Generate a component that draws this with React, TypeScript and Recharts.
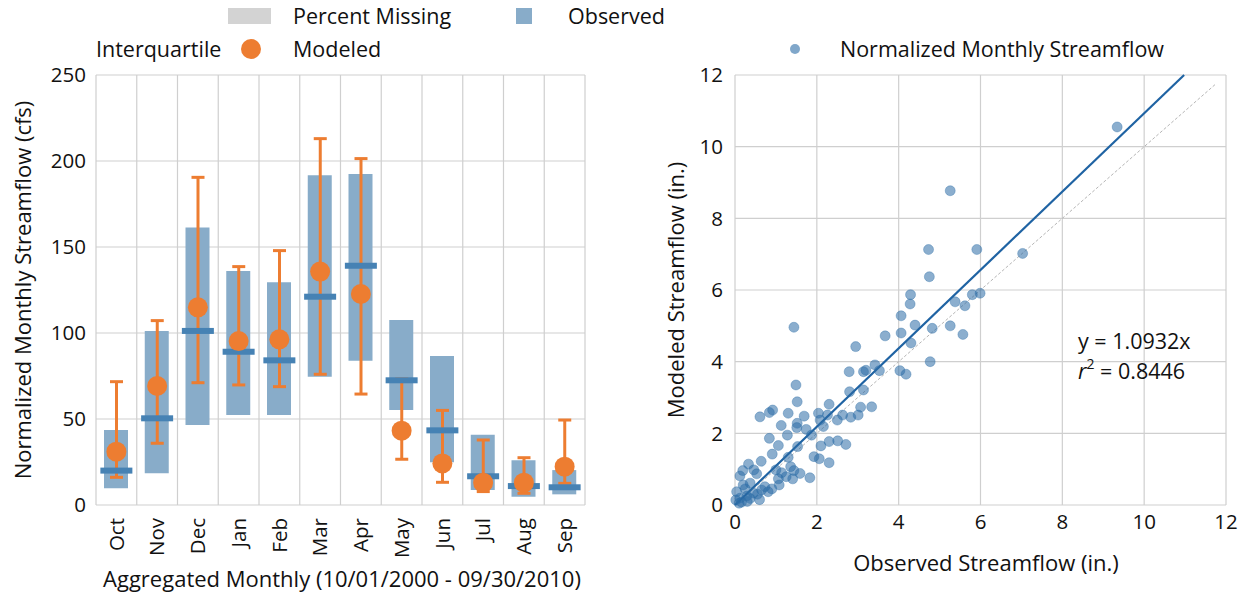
import React from 'react'
import {
  ComposedChart, ScatterChart, Bar, Scatter, XAxis, YAxis, CartesianGrid, ReferenceLine,
} from 'recharts'

const months = ['Oct', 'Nov', 'Dec', 'Jan', 'Feb', 'Mar', 'Apr', 'May', 'Jun', 'Jul', 'Aug', 'Sep']
const boxLow = [9.7, 18.4, 46.5, 52.3, 52.3, 74.6, 83.9, 55.2, 24.8, 8.7, 4.8, 6.2]
const boxHigh = [43.6, 101.2, 161.4, 136, 129.5, 191.7, 192.4, 107.6, 86.6, 40.9, 26, 20.3]
const observedMedian = [20, 50.4, 101.2, 89.1, 84.1, 121.1, 139.1, 72.5, 43.4, 16.7, 11, 10.3]
const modeledMedian = [31, 69.2, 114.9, 95.3, 96.3, 135.7, 122.7, 43.2, 24.2, 13, 13, 22.3]
const modeledLow = [16.1, 35.9, 71.1, 69.8, 68.8, 76, 64.5, 26.6, 13.2, 7.8, 6.8, 12.6]
const modeledHigh = [71.7, 107.2, 190.5, 138.6, 147.9, 213, 201.4, 73.3, 55, 37.8, 27.5, 49.4]
const leftTicks = [0, 50, 100, 150, 200, 250]

// normalized monthly streamflow, inches
const observedIn = [
  9.34, 5.26, 4.73, 5.91, 7.03, 4.75, 4.29, 4.28, 5.8, 5.99, 5.38, 5.62, 4.06, 4.4, 4.82, 5.26, 5.57, 3.67, 4.06, 2.95, 1.44, 4.3, 4.77,
  2.79, 3.14, 3.2, 3.42, 3.53, 4.03, 4.18, 1.49, 2.8, 3.14, 1.52, 2.3, 3.07, 3.34,
  0.61, 0.84, 0.92, 1.3, 1.69, 2.04, 2.26, 2.63, 2.83, 3.01, 2.5, 2.08, 1.52,
  1.13, 1.51, 1.74, 2.16, 1.28, 1.87, 0.84, 1.06, 1.53, 0.91, 2.1, 2.3, 2.51, 2.71, 1.93, 2.06, 2.3, 1.3,
  0.33, 0.64, 0.19, 0.12, 0.46, 0.53, 1.0, 1.14, 1.36, 1.44, 1.59, 1.83, 1.41, 1.25, 1.06, 1.08, 0.37, 0.2,
  0.73, 0.81, 0.65, 0.45, 0.29, 0.12, 0.04, 0.02, 0.37, 0.16, 0.55, 0.25, 0.9, 0.1, 0.6, 0.3,
]
const modeledIn = [
  10.55, 8.77, 7.13, 7.13, 7.02, 6.37, 5.87, 5.61, 5.87, 5.91, 5.67, 5.56, 5.28, 5.02, 4.93, 5.0, 4.76, 4.72, 4.8, 4.42, 4.96, 4.52, 4.0,
  3.72, 3.72, 3.76, 3.91, 3.75, 3.75, 3.65, 3.35, 3.16, 3.21, 2.88, 2.81, 2.73, 2.74,
  2.46, 2.58, 2.65, 2.56, 2.48, 2.56, 2.51, 2.51, 2.45, 2.51, 2.37, 2.37, 2.28,
  2.22, 2.16, 2.11, 2.19, 1.95, 1.95, 1.86, 1.66, 1.63, 1.42, 1.65, 1.77, 1.79, 1.69, 1.35, 1.29, 1.18, 1.33,
  1.14, 1.22, 0.96, 0.81, 0.98, 0.87, 0.98, 0.9, 1.07, 0.96, 0.88, 0.76, 0.73, 0.79, 0.73, 0.56, 0.61, 0.56,
  0.51, 0.37, 0.42, 0.33, 0.25, 0.19, 0.37, 0.14, 0.18, 0.08, 0.3, 0.45, 0.45, 0.05, 0.15, 0.1,
]
const rightTicks = [0, 2, 4, 6, 8, 10, 12]
const SLOPE = 1.0932
const R2 = 0.8446

const ORANGE = '#ed7d31'
const BOX = '#88acc9'
const MEDIAN = '#4682b4'
const DOT = '#2b6ca6'
const FONT = '"Open Sans", sans-serif'

const monthly = months.map((m, i) => ({
  month: m,
  box: [boxLow[i], boxHigh[i]],
  err: [modeledLow[i], modeledHigh[i]],
  median: observedMedian[i],
  modeled: modeledMedian[i],
}))

const points = observedIn.map((o, i) => ({ obs: o, mod: modeledIn[i] }))

const tickStyle = { fontSize: 20.5, fill: '#111', fontFamily: FONT }

function MonthTick(props: any) {
  const { x, y, payload } = props
  return (
    <text x={x} y={y + 5} transform={`rotate(-90 ${x} ${y + 5})`} textAnchor="end" dy="0.35em"
      fontSize={20.5} fill="#111" fontFamily={FONT}>
      {payload.value}
    </text>
  )
}

function ErrShape(props: any) {
  const { x, y, width, height } = props
  const cx = x + width / 2
  return (
    <g stroke={ORANGE} strokeWidth={3}>
      <line x1={cx} y1={y} x2={cx} y2={y + height} />
      <line x1={cx - 6.5} y1={y} x2={cx + 6.5} y2={y} />
      <line x1={cx - 6.5} y1={y + height} x2={cx + 6.5} y2={y + height} />
    </g>
  )
}

function MedianShape(props: any) {
  const { cx, cy } = props
  return <rect x={cx - 16} y={cy - 3} width={32} height={6} fill={MEDIAN} />
}

function ModeledShape(props: any) {
  const { cx, cy } = props
  return <circle cx={cx} cy={cy} r={10} fill={ORANGE} />
}

function PointShape(props: any) {
  const { cx, cy } = props
  return <circle cx={cx} cy={cy} r={5} fill={DOT} fillOpacity={0.55} stroke={DOT} strokeOpacity={0.35} strokeWidth={1} />
}

function Txt({ x, y, children, rotate, anchor = 'left', size = 21.5 }: any) {
  const tx = anchor === 'center' ? '-50%' : '0'
  return (
    <div style={{
      position: 'absolute', left: x, top: y, fontFamily: FONT, fontSize: size, color: '#111',
      whiteSpace: 'nowrap', lineHeight: 1,
      transform: `translate(${tx}, -50%)${rotate ? ` rotate(${rotate}deg)` : ''}`,
      transformOrigin: anchor === 'center' ? 'center' : 'left center',
    }}>
      {children}
    </div>
  )
}

export default function App() {
  const bandLines = ({ offset }: any) =>
    months.concat(['']).map((_, i) => offset.left + (i * offset.width) / months.length)

  return (
    <div style={{ position: 'absolute', left: 0, top: 0, width: 1247, height: 598, background: '#fff' }}>
      <div style={{ position: 'absolute', left: 0, top: 0 }}>
        <ComposedChart width={600} height={598} data={monthly} margin={{ top: 75, right: 15, bottom: 33, left: 0 }}>
          <CartesianGrid stroke="#cfcfcf" strokeWidth={1.2} verticalCoordinatesGenerator={bandLines} />
          <XAxis dataKey="month" axisLine={false} tickLine={false} height={60} tick={<MonthTick />} interval={0} />
          <XAxis dataKey="month" xAxisId="err" hide />
          <YAxis domain={[0, 250]} ticks={leftTicks} axisLine={false} tickLine={false} width={96}
            tick={tickStyle} tickMargin={4} />
          <Bar dataKey="box" fill={BOX} barSize={24} isAnimationActive={false} />
          <Scatter dataKey="median" shape={<MedianShape />} isAnimationActive={false} />
          <Bar dataKey="err" xAxisId="err" barSize={13} shape={<ErrShape />} isAnimationActive={false} />
          <Scatter dataKey="modeled" shape={<ModeledShape />} isAnimationActive={false} />
        </ComposedChart>
      </div>

      <div style={{ position: 'absolute', left: 640, top: 0 }}>
        <ScatterChart width={607} height={598} margin={{ top: 75, right: 21, bottom: 33, left: 0 }}>
          <CartesianGrid stroke="#cfcfcf" strokeWidth={1.2} />
          <XAxis type="number" dataKey="obs" domain={[0, 12]} ticks={rightTicks} axisLine={false} tickLine={false}
            height={60} tick={tickStyle} tickMargin={3} />
          <YAxis type="number" dataKey="mod" domain={[0, 12]} ticks={rightTicks} axisLine={false} tickLine={false}
            width={95} tick={tickStyle} tickMargin={6} />
          <ReferenceLine segment={[{ x: 0, y: 0 }, { x: 11.75, y: 11.75 }]} stroke="#b5b5b5" strokeWidth={1}
            strokeDasharray="3 2" />
          <Scatter data={points} shape={<PointShape />} isAnimationActive={false} />
          <ReferenceLine segment={[{ x: 0, y: 0 }, { x: 12 / SLOPE, y: 12 }]} stroke="#1f63a3" strokeWidth={2.2} />
        </ScatterChart>
      </div>

      {/* left legend */}
      <div style={{ position: 'absolute', left: 228, top: 8, width: 43, height: 16, background: '#d3d3d3' }} />
      <Txt x={293} y={16}>Percent Missing</Txt>
      <div style={{ position: 'absolute', left: 516, top: 8, width: 16, height: 16, background: BOX }} />
      <Txt x={568} y={16}>Observed</Txt>
      <Txt x={96} y={49}>Interquartile</Txt>
      <div style={{ position: 'absolute', left: 241, top: 39, width: 20, height: 20, borderRadius: 10, background: ORANGE }} />
      <Txt x={293} y={49}>Modeled</Txt>

      {/* left titles */}
      <Txt x={22} y={290} rotate={-90} anchor="center" size={22}>Normalized Monthly Streamflow (cfs)</Txt>
      <Txt x={342} y={578} anchor="center" size={22}>Aggregated Monthly (10/01/2000 - 09/30/2010)</Txt>

      {/* right legend and titles */}
      <div style={{ position: 'absolute', left: 790, top: 44, width: 10, height: 10, borderRadius: 5, background: DOT, opacity: 0.6 }} />
      <Txt x={840} y={49}>Normalized Monthly Streamflow</Txt>
      <Txt x={986} y={562} anchor="center" size={22}>Observed Streamflow (in.)</Txt>
      <Txt x={675} y={290} rotate={-90} anchor="center" size={22}>Modeled Streamflow (in.)</Txt>
      <Txt x={1078} y={341}>{`y = ${SLOPE}x`}</Txt>
      <Txt x={1078} y={371}>
        <i>r</i><span style={{ fontSize: 14, verticalAlign: 'top', lineHeight: 0, position: 'relative', top: 4 }}>2</span>{` = ${R2}`}
      </Txt>
    </div>
  )
}
